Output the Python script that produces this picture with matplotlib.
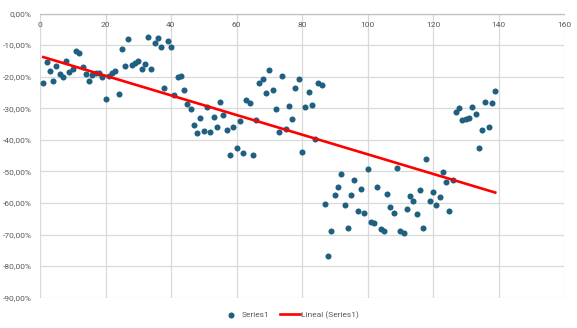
import numpy as np
import matplotlib
matplotlib.use("Agg")
import matplotlib.pyplot as plt
from matplotlib.ticker import FuncFormatter, MultipleLocator

x_values = list(range(1, 140))
y_values = [
    -21.9, -15.5, -18.3, -21.5, -16.6, -19.3, -20.2, -15.2, -18.6, -17.7,
    -12.0, -12.4, -17.1, -19.3, -21.5, -19.5, -18.9, -19.0, -20.2, -27.2,
    -19.8, -18.8, -18.2, -25.5, -11.4, -16.6, -8.2, -16.4, -15.8, -15.0,
    -17.6, -16.1, -7.5, -17.5, -9.5, -7.8, -10.6, -23.7, -8.8, -10.6,
    -25.9, -20.0, -19.7, -24.3, -28.7, -30.3, -35.4, -38.0, -33.0, -37.2,
    -29.5, -37.4, -32.8, -36.1, -28.0, -32.3, -36.8, -44.7, -35.9, -42.5,
    -34.0, -44.3, -27.5, -28.3, -44.7, -33.8, -22.1, -20.6, -25.3, -18.0,
    -24.1, -30.1, -37.6, -19.9, -36.7, -29.3, -33.4, -23.5, -20.6, -43.8,
    -29.7, -24.9, -29.1, -39.7, -22.1, -22.8, -60.4, -76.8, -69.0, -57.5,
    -55.1, -50.7, -60.7, -68.0, -57.5, -52.7, -62.6, -55.5, -63.3, -49.3,
    -65.9, -66.4, -55.1, -68.1, -68.8, -57.3, -61.3, -63.3, -48.9, -69.0,
    -69.6, -62.0, -57.8, -59.5, -63.6, -55.9, -68.0, -46.2, -59.3, -56.5,
    -60.7, -58.0, -50.3, -53.3, -62.6, -52.6, -31.2, -29.9, -33.6, -33.4,
    -33.2, -29.5, -31.9, -42.5, -36.8, -27.9, -36.0, -28.5, -24.7,
]
series_name = "Series1"
trend_name = "Lineal (Series1)"

plt.rcParams["font.family"] = ["Roboto", "DejaVu Sans"]

x = np.array(x_values, dtype=float)
y = np.array(y_values) / 100.0

fig = plt.figure(figsize=(5.77, 3.28), dpi=100)
W, H = 577, 328
ax = fig.add_axes([40 / W, 1 - 297.7 / H, (564 - 40) / W, (297.7 - 13.5) / H])

grid_c = "#d9d9d9"
text_c = "#595959"

ax.scatter(x, y, s=19, color="#1f5f80", zorder=3, label=series_name, linewidths=0)
coef = np.polyfit(x, y, 1)
xt = np.array([x.min(), x.max()])
ax.plot(xt, np.polyval(coef, xt), color="#ff0000", lw=1.9, zorder=4, label=trend_name)

ax.set_xlim(0, 160)
ax.set_ylim(-0.9, 0)
ax.xaxis.set_major_locator(MultipleLocator(20))
ax.yaxis.set_major_locator(MultipleLocator(0.1))
ax.yaxis.set_major_formatter(FuncFormatter(lambda v, p: f"{v*100:.2f}%".replace(".", ",").replace("-0,00", "0,00")))

ax.grid(True, color=grid_c, lw=0.9, zorder=0)
for s in ["left", "right", "bottom"]:
    ax.spines[s].set_visible(False)
ax.spines["top"].set_color("#bfbfbf")
ax.spines["top"].set_linewidth(0.9)

ax.xaxis.set_ticks_position("top")
ax.tick_params(axis="x", top=True, labeltop=True, bottom=False, labelbottom=False,
               length=0, pad=-10.5, labelsize=6, labelcolor=text_c)
ax.tick_params(axis="y", length=0, pad=6, labelsize=6, labelcolor=text_c)

leg = fig.legend(loc="center", bbox_to_anchor=(290 / W, 1 - 315 / H), ncol=2, frameon=False,
                 fontsize=6, labelcolor=text_c, handlelength=2.4, columnspacing=1.2,
                 handletextpad=0.1, markerscale=1.0)

fig.savefig("out.png", dpi=100)
